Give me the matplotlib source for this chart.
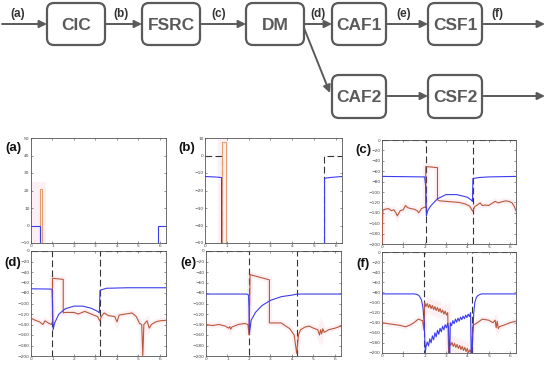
import matplotlib
matplotlib.use("Agg")
import matplotlib.pyplot as plt
from matplotlib.patches import FancyBboxPatch

# ---------------- data ----------------
# block diagram
box_names = ["CIC", "FSRC", "DM", "CAF1", "CSF1", "CAF2", "CSF2"]
signal_labels = ["(a)", "(b)", "(c)", "(d)", "(e)", "(f)"]
panel_labels = ["(a)", "(b)", "(c)", "(d)", "(e)", "(f)"]
x_ticks = [0, 1, 2, 3, 4, 5, 6]

# panel (a)
a_blue1_x = [0, 0.4, 0.4]
a_blue1_y = [0, 0, -10]
a_blue2_x = [5.9, 5.9, 6.28]
a_blue2_y = [-10, 0, 0]
a_red_x = [0.42, 0.42, 0.5, 0.5]
a_red_y = [-10, 21, 21, -10]

# panel (b)
b_dash1_x = [0, 0.78, 0.78]
b_dash1_y = [0, 0, -50]
b_dash2_x = [5.45, 5.45, 6.28]
b_dash2_y = [-50, 0, 0]
b_blue1_x = [0, 0.5, 0.76, 0.76]
b_blue1_y = [-12, -12.3, -12.6, -50]
b_blue2_x = [5.48, 5.48, 5.8, 6.28]
b_blue2_y = [-50, -13, -12.5, -12]
b_red_x = [0.8, 0.8, 0.97, 0.97]
b_red_y = [-50, 8, 8, -50]

# panel (c)
c_dash1_x = [0, 2.05, 2.05]
c_dash1_y = [0, 0, -200]
c_dash2_x = [4.25, 4.25, 6.28]
c_dash2_y = [-200, 0, 0]
c_blue_x = [0, 1.0, 2.0, 2.05, 2.08, 2.15, 2.3, 2.6, 3.0, 3.5, 4.0, 4.2, 4.24, 4.26, 4.6, 5.0, 6.28]
c_blue_y = [-70, -70.5, -71, -90, -146, -135, -126, -113, -105, -105, -110, -116, -118, -74, -72, -71, -70]
c_red_x = [0, 0.04, 0.15, 0.3, 0.45, 0.55, 0.65, 0.72, 0.85, 1.0, 1.1, 1.2, 1.35, 1.5, 1.65, 1.72, 1.85, 2.0, 2.05,
           2.05, 2.55, 2.6, 2.6, 2.7, 3.0, 3.3, 3.6, 3.9, 4.1, 4.25, 4.35, 4.5, 4.6, 4.7, 4.85, 5.0, 5.15, 5.3,
           5.45, 5.6, 5.8, 5.95, 6.1, 6.2, 6.28]
c_red_y = [-200, -135, -133, -132, -136, -134, -140, -146, -136, -134, -126, -130, -132, -133, -136, -140, -132, -129, -130,
           -51, -53, -53, -115, -117, -118, -119, -120, -123, -127, -137, -128, -124, -121, -126, -125, -126, -122, -118,
           -121, -119, -117, -118, -121, -128, -136]

# panel (d)
d_dash1_x = [0, 1.0, 1.0]
d_dash1_y = [0, 0, -200]
d_dash2_x = [3.2, 3.2, 6.28]
d_dash2_y = [-200, 0, 0]
d_blue_x = [0, 0.9, 0.98, 1.0, 1.03, 1.1, 1.3, 1.6, 2.0, 2.4, 2.8, 3.1, 3.18, 3.21, 3.5, 4.5, 6.28]
d_blue_y = [-72, -72.5, -73, -100, -150, -137, -120, -110, -105, -105, -109, -115, -118, -75, -71, -70, -70]
d_red_x = [0, 0.2, 0.4, 0.55, 0.65, 0.8, 0.95, 1.0, 1.0, 1.5, 1.5, 1.6, 2.0, 2.2, 2.5, 2.8, 3.1, 3.2, 3.3, 3.4,
           3.6, 3.9, 4.0, 4.1, 4.4, 4.7, 4.9, 5.05, 5.15, 5.2, 5.25, 5.4, 5.5, 5.6, 5.8, 6.0, 6.28]
d_red_y = [-128, -132, -135, -140, -133, -137, -140, -135, -52, -54, -118, -117, -117, -120, -115, -120, -125, -133, -123, -118,
           -123, -125, -135, -122, -120, -118, -125, -138, -140, -200, -140, -133, -147, -140, -135, -133, -132]

# panel (e)
e_dash1_x = [0, 2.0, 2.0]
e_dash1_y = [0, 0, -200]
e_dash2_x = [4.24, 4.24, 6.28]
e_dash2_y = [-200, 0, 0]
e_blue_x = [0, 1.9, 1.98, 2.0, 2.02, 2.1, 2.3, 2.6, 3.0, 3.5, 4.0, 4.24, 6.28]
e_blue_y = [-82, -82, -84, -110, -157, -132, -117, -104, -94, -87, -84, -82, -82]
e_red_x = [0, 0.3, 0.6, 0.9, 1.05, 1.1, 1.15, 1.2, 1.5, 1.8, 1.95, 2.0, 2.03, 2.05, 2.95, 2.95, 3.5, 3.6, 3.9, 4.1,
           4.22, 4.3, 4.4, 4.6, 4.8, 5.0, 5.2, 5.28, 5.33, 5.38, 5.43, 5.5, 5.7, 6.0, 6.28]
e_red_y = [-140, -142, -140, -143, -147, -144, -149, -145, -140, -138, -140, -160, -100, -45, -55, -137, -137, -140, -148, -160,
           -195, -160, -150, -145, -143, -147, -150, -160, -150, -158, -148, -155, -150, -147, -143]

# panel (f)
f_dash1_x = [0, 1.98, 1.98]
f_dash1_y = [0, 0, -200]
f_dash2_x = [4.2, 4.2, 6.28]
f_dash2_y = [-200, 0, 0]
f_blue_x = [0, 1.5, 1.65, 1.75, 1.85, 1.92, 1.97, 2.0, 2.03,
            2.06, 2.12, 2.18, 2.24, 2.3, 2.36, 2.42, 2.48, 2.54, 2.6, 2.66, 2.72, 2.78, 2.84, 2.9, 2.96, 3.02, 3.08,
            3.12, 3.15, 3.18, 3.2, 3.26, 3.32, 3.38, 3.44, 3.5, 3.56, 3.62, 3.68, 3.74, 3.8, 3.86, 3.92, 3.98,
            4.04, 4.1, 4.15, 4.18, 4.22, 4.26, 4.3, 4.35, 4.42, 4.5, 4.65, 6.28]
f_blue_y = [-83, -83, -84, -87, -95, -110, -135, -165, -200,
            -188, -178, -186, -172, -180, -166, -174, -160, -168, -155, -163, -151, -158, -147, -154, -144, -150, -141,
            -150, -200, -200, -140, -146, -136, -142, -133, -139, -131, -137, -129, -134, -127, -132, -125, -130,
            -123, -128, -120, -200, -200, -160, -120, -100, -90, -86, -83, -83]
f_red_x = [0, 0.3, 0.8, 1.1, 1.3, 1.5, 1.7, 1.9, 1.97, 2.0,
           2.06, 2.12, 2.18, 2.24, 2.3, 2.36, 2.42, 2.48, 2.54, 2.6, 2.66, 2.72, 2.78, 2.84, 2.9, 2.96, 3.02, 3.08,
           3.12, 3.16, 3.22, 3.28, 3.34, 3.4, 3.46, 3.52, 3.58, 3.64, 3.7, 3.76, 3.82, 3.88, 3.94, 4.0, 4.06, 4.12,
           4.18, 4.22, 4.28, 4.5, 4.7, 5.0, 5.2, 5.3, 5.35, 5.4, 5.45, 5.5, 5.7, 6.0, 6.28]
f_red_y = [-140, -142, -145, -148, -145, -140, -133, -136, -155, -100,
           -108, -102, -110, -104, -112, -106, -114, -108, -116, -110, -118, -112, -120, -115, -123, -117, -125, -120,
           -200, -178, -185, -179, -187, -181, -189, -183, -191, -185, -193, -187, -195, -189, -197, -191, -199, -194,
           -200, -170, -145, -139, -133, -135, -140, -135, -150, -137, -152, -148, -145, -140, -137]

# ---------------- drawing ----------------
W, H = 550, 366
fig = plt.figure(figsize=(5.5, 3.66), dpi=100)
fig.patch.set_facecolor("white")

GRAY = "#5a5a5a"
BLUE = "#3c3cf0"
RED = "#b8583a"
PINK = "#fdf0f4"
DASH = "#333333"

# overlay for block diagram and panel labels
ov = fig.add_axes([0, 0, 1, 1])
ov.set_xlim(0, W)
ov.set_ylim(H, 0)
ov.axis("off")
ov.set_zorder(5)
ov.patch.set_alpha(0)

boxes = {
    "CIC": (47, 3, 58, 42), "FSRC": (142, 3, 58, 42), "DM": (246, 3, 58, 42),
    "CAF1": (332, 3, 54, 42), "CSF1": (428, 3, 54, 42),
    "CAF2": (332, 75, 54, 43), "CSF2": (428, 75, 54, 43),
}
for name in box_names:
    x, y, w, h = boxes[name]
    ov.add_patch(FancyBboxPatch((x, y), w, h, boxstyle="round,pad=0,rounding_size=7",
                                fc="white", ec=GRAY, lw=1.6))
    ov.text(x + w / 2, y + h / 2 + 1, name, ha="center", va="center", fontsize=12.5,
            fontweight="bold", color=GRAY, family="Liberation Sans")

def arrow(x0, y0, x1, y1):
    ov.annotate("", xy=(x1, y1), xytext=(x0, y0),
                arrowprops=dict(arrowstyle="-|>,head_length=0.45,head_width=0.22",
                                color=GRAY, lw=1.4, shrinkA=0, shrinkB=0))

ya = 24
arrow(2, ya, 47, ya)
arrow(105, ya, 142, ya)
arrow(200, ya, 246, ya)
arrow(304, ya, 332, ya)
arrow(386, ya, 428, ya)
arrow(482, ya, 545, ya)
arrow(304, 28, 330, 93)
arrow(386, 96, 428, 96)
arrow(482, 96, 545, 96)

for lab, xl in zip(signal_labels, [18, 121, 219, 318, 404, 497]):
    ov.text(xl, 14, lab, ha="center", va="center", fontsize=8.5, fontweight="bold",
            color="#333333", family="Liberation Sans")

label_pos = [(13, 148), (187, 148), (363, 150), (13, 263), (188, 263), (363, 264)]
for lab, (xl, yl) in zip(panel_labels, label_pos):
    ov.text(xl, yl, lab, ha="center", va="center", fontsize=9.5, fontweight="bold",
            color="#111111", family="Liberation Sans")

# panel axes positions in pixels: (left, top, right, bottom)
pos = [(31, 138, 166, 243), (205, 138, 342, 243), (382, 140, 516, 244),
       (31, 251, 166, 356), (206, 251, 341, 356), (382, 252, 516, 353)]
ylims = [(-10, 50), (-50, 10), (-200, 0), (-200, 0), (-200, 0), (-200, 0)]
yticks = [list(range(-10, 51, 10)), list(range(-50, 11, 10))] + [list(range(-200, 1, 20))] * 4

axes = []
for (l, t, r, b), yl, yt in zip(pos, ylims, yticks):
    ax = fig.add_axes([l / W, 1 - b / H, (r - l) / W, (b - t) / H])
    ax.set_xlim(0, 6.28)
    ax.set_ylim(*yl)
    ax.set_xticks(x_ticks)
    ax.set_yticks(yt)
    ax.tick_params(direction="in", length=1.5, width=0.4, labelsize=3.2, pad=1,
                   top=True, right=True, colors="#444444")
    for s in ax.spines.values():
        s.set_linewidth(0.6)
        s.set_color("#555555")
    axes.append(ax)

def dash(ax, x, y):
    ax.plot(x, y, color=DASH, lw=0.8, dashes=(6, 3))

def red(ax, x, y, lw=0.8):
    ax.plot(x, y, color=PINK, lw=4, solid_joinstyle="miter", zorder=1)
    ax.plot(x, y, color=RED, lw=lw, zorder=3)

def blue(ax, x, y):
    ax.plot(x, y, color=BLUE, lw=0.8, zorder=4)

ax = axes[0]
ax.fill_between([0, 0.7], -10, 25, color=PINK, lw=0, zorder=0)
blue(ax, a_blue1_x, a_blue1_y)
blue(ax, a_blue2_x, a_blue2_y)
ax.plot(a_red_x, a_red_y, color="#e0a070", lw=0.8)

ax = axes[1]
dash(ax, b_dash1_x, b_dash1_y)
dash(ax, b_dash2_x, b_dash2_y)
blue(ax, b_blue1_x, b_blue1_y)
blue(ax, b_blue2_x, b_blue2_y)
ax.fill_between([0.6, 1.05], -50, 10, color=PINK, lw=0, zorder=0)
ax.plot(b_red_x, b_red_y, color="#e0a070", lw=0.8)

for ax, dx1, dy1, dx2, dy2, bx, by, rx, ry in [
    (axes[2], c_dash1_x, c_dash1_y, c_dash2_x, c_dash2_y, c_blue_x, c_blue_y, c_red_x, c_red_y),
    (axes[3], d_dash1_x, d_dash1_y, d_dash2_x, d_dash2_y, d_blue_x, d_blue_y, d_red_x, d_red_y),
    (axes[4], e_dash1_x, e_dash1_y, e_dash2_x, e_dash2_y, e_blue_x, e_blue_y, e_red_x, e_red_y),
    (axes[5], f_dash1_x, f_dash1_y, f_dash2_x, f_dash2_y, f_blue_x, f_blue_y, f_red_x, f_red_y),
]:
    dash(ax, dx1, dy1)
    dash(ax, dx2, dy2)
    red(ax, rx, ry)
    blue(ax, bx, by)

fig.savefig("out.png", dpi=100, facecolor="white")
